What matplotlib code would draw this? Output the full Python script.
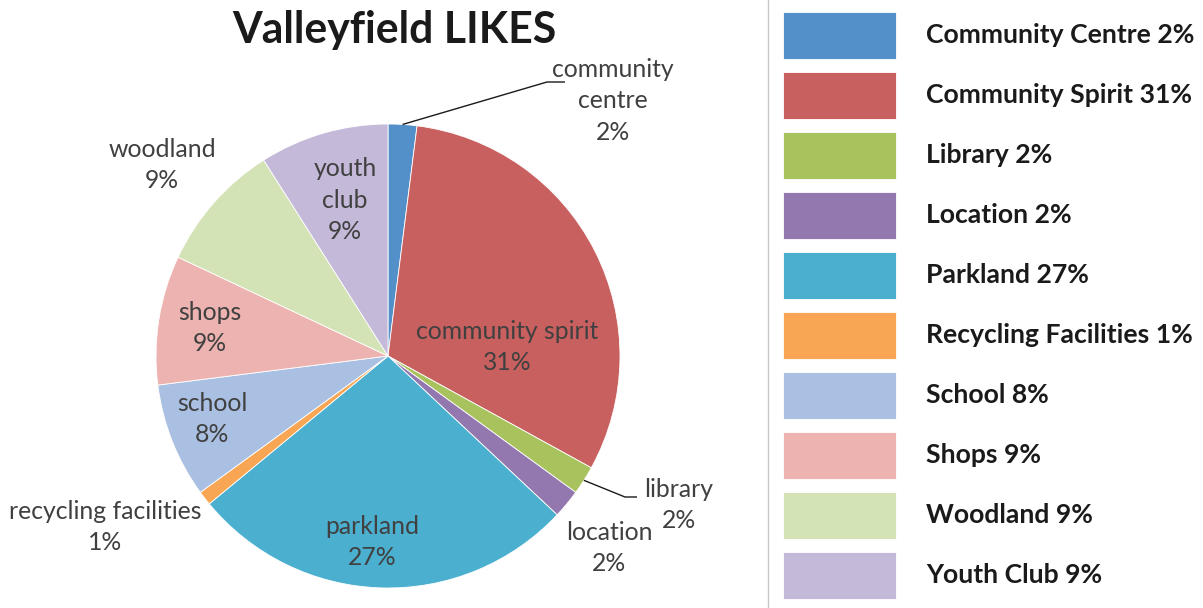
import numpy as np
import matplotlib
matplotlib.use("Agg")
import matplotlib.pyplot as plt
from matplotlib.patches import Rectangle
from matplotlib.lines import Line2D

# ---- data ----
categories = ["Community Centre", "Community Spirit", "Library", "Location", "Parkland",
              "Recycling Facilities", "School", "Shops", "Woodland", "Youth Club"]
pie_labels = ["community\ncentre", "community spirit", "library", "location", "parkland",
              "recycling facilities", "school", "shops", "woodland", "youth\nclub"]
values = [2, 31, 2, 2, 27, 1, 8, 9, 9, 9]
title = "Valleyfield LIKES"

# ---- style / layout ----
colors = ["#538FC8", "#C8605F", "#A8C35E", "#9378B0", "#4BAFCF",
          "#F8A653", "#AAC0E2", "#EDB3B0", "#D4E3B5", "#C4B9D9"]
W, H = 1203, 608
CX, CY, R = 388, 356, 232
# label positions in pixel coords (x, y from top)
label_pos = [(613, 101), (507, 347), (679, 505), (609, 548), (372, 542),
             (105, 527), (212, 419), (210, 328), (162, 165), (345, 200)]
# leader line elbows (None = no leader)
elbows = [((547, 82), (565, 82)), None, ((625, 497), (637, 497)), None, None,
          None, None, None, None, None]

FONT = "Lato"
fig = plt.figure(figsize=(W / 100, H / 100), dpi=100)
ax = fig.add_axes([0, 0, 1, 1])

def py(y):
    return H - y

wedges, _ = ax.pie(values, colors=colors, startangle=90, counterclock=False,
                   center=(CX, py(CY)), radius=R, frame=True,
                   wedgeprops=dict(edgecolor="white", linewidth=0.6))
ax.set_xlim(0, W)
ax.set_ylim(0, H)
ax.set_aspect("equal")
ax.axis("off")

total = sum(values)
for i, (w, name, v) in enumerate(zip(wedges, pie_labels, values)):
    x, y = label_pos[i]
    ax.text(x, py(y), f"{name}\n{round(v / total * 100)}%", ha="center", va="center",
            fontsize=17.8, family=FONT, color="#404040", linespacing=1.45)
    if elbows[i] is not None:
        ang = np.deg2rad((w.theta1 + w.theta2) / 2)
        ex, ey = CX + R * np.cos(ang), py(CY) + R * np.sin(ang)
        (x1, y1), (x2, y2) = elbows[i]
        ax.plot([ex, x1, x2], [ey, py(y1), py(y2)], color="#1a1a1a", lw=1.0,
                solid_capstyle="butt")

ax.text(394, py(30), title, ha="center", va="center", fontsize=30.8,
        fontweight="bold", family=FONT, color="#1a1a1a")

# legend (manual)
fig.add_artist(Line2D([768 / W, 768 / W], [0, 1], color="#C8C8C8", lw=1.0))
for i, (name, v, c) in enumerate(zip(categories, values, colors)):
    yc = 35 + 60 * i
    ax.add_patch(Rectangle((783, py(yc + 23.5)), 113, 47, facecolor=c,
                           edgecolor="white", lw=0.6))
    ax.text(926, py(yc), f"{name} {round(v / total * 100)}%", ha="left", va="center",
            fontsize=19.1, fontweight="bold", family=FONT, color="#1a1a1a")

fig.savefig("out.png", dpi=100)
